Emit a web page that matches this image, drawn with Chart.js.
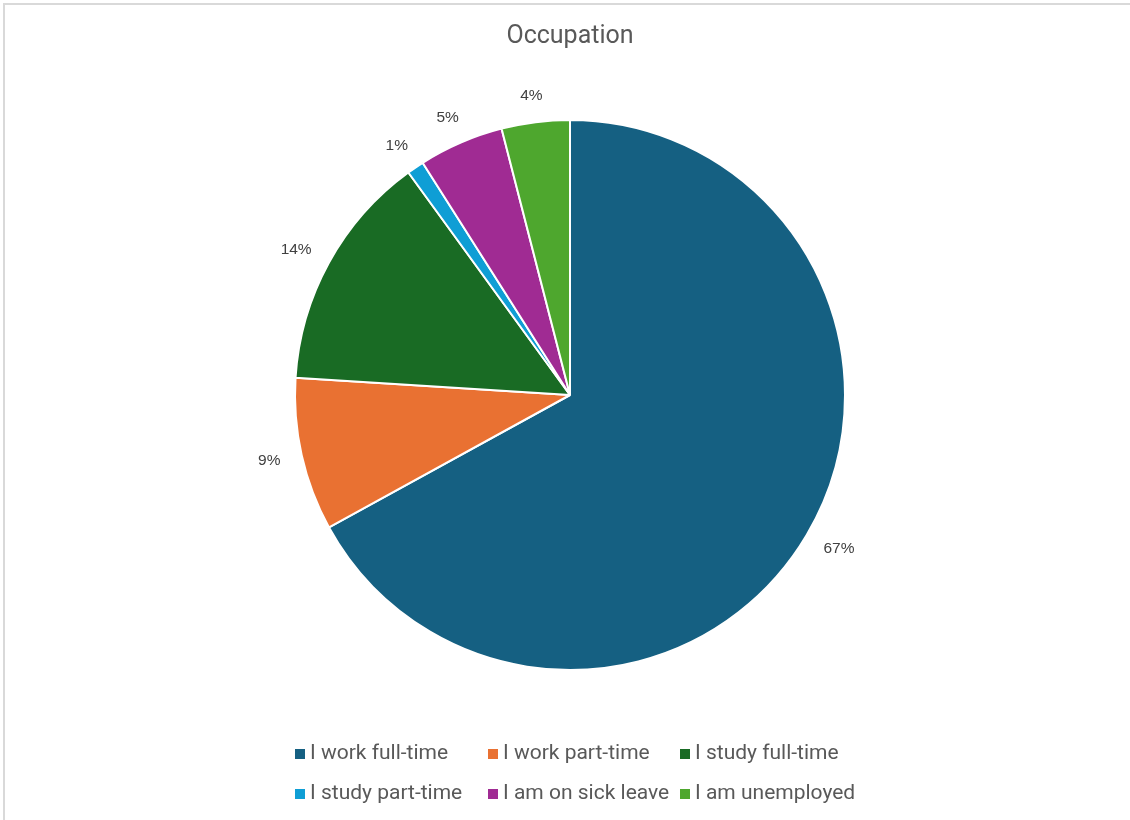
<!DOCTYPE html>
<html>
<head>
<meta charset="utf-8">
<title>Occupation</title>
<script src="https://cdn.jsdelivr.net/npm/chart.js@4/dist/chart.umd.min.js"></script>
<style>
  html, body { margin: 0; padding: 0; background: #ffffff; overflow: hidden; }
  #frame {
    position: absolute; left: 3px; top: 3px; width: 1125px; height: 815px;
    border-top: 2px solid #d9d9d9; border-left: 2px solid #d9d9d9;
  }
  #wrap { position: absolute; left: 0; top: 0; width: 1130px; height: 820px; }
</style>
</head>
<body>
<div id="frame"></div>
<div id="wrap"><canvas id="chart" width="1130" height="820"></canvas></div>
<script>
// Survey answers: share of respondents per occupation (percent)
const categories = [
  'I work full-time',
  'I work part-time',
  'I study full-time',
  'I study part-time',
  'I am on sick leave',
  'I am unemployed'
];
const shares = [67, 9, 14, 1, 5, 4];
const sliceColors = ['#156082', '#E97132', '#196B24', '#0F9ED5', '#A02B93', '#4EA72E'];
const chartTitle = 'Occupation';

const TEXT_GREY = '#595959';
const LABEL_GREY = '#404040';

// Title drawn centred above the pie
const titlePlugin = {
  id: 'titleText',
  afterDraw(chart) {
    const ctx = chart.ctx;
    ctx.save();
    ctx.fillStyle = TEXT_GREY;
    ctx.font = '25px Roboto';
    ctx.textAlign = 'center';
    ctx.textBaseline = 'middle';
    ctx.fillText(chartTitle, 570, 37);
    ctx.restore();
  }
};

// Percentage labels placed just outside each slice's outer edge
const outsideLabels = {
  id: 'outsideLabels',
  afterDatasetsDraw(chart) {
    const ctx = chart.ctx;
    const meta = chart.getDatasetMeta(0);
    ctx.save();
    ctx.font = '15.5px "Liberation Sans"';
    ctx.fillStyle = LABEL_GREY;
    ctx.textAlign = 'center';
    ctx.textBaseline = 'middle';
    meta.data.forEach((arc, i) => {
      const p = arc.getProps(['x', 'y', 'startAngle', 'endAngle', 'outerRadius'], true);
      const mid = (p.startAngle + p.endAngle) / 2;
      const dx = Math.cos(mid), dy = Math.sin(mid);
      const text = shares[i] + '%';
      const w = ctx.measureText(text).width;
      const h = 10;
      const gap = 22;
      const x = p.x + dx * (p.outerRadius + gap) + dx * w / 2;
      const y = p.y + dy * (p.outerRadius + gap) + dy * h / 2;
      ctx.fillText(text, x, y);
    });
    ctx.restore();
  }
};

// Two-row legend laid out on a fixed column grid
const gridLegend = {
  id: 'gridLegend',
  afterDraw(chart) {
    const ctx = chart.ctx;
    const colX = [295, 488, 680];
    const rowY = [754, 794];
    ctx.save();
    ctx.font = '21px Roboto';
    ctx.textBaseline = 'middle';
    ctx.textAlign = 'left';
    categories.forEach((name, i) => {
      const col = i % 3, row = Math.floor(i / 3);
      const x = colX[col], y = rowY[row];
      ctx.fillStyle = sliceColors[i];
      ctx.fillRect(x, y - 5, 10, 10);
      ctx.fillStyle = TEXT_GREY;
      ctx.fillText(name, x + 15, y);
    });
    ctx.restore();
  }
};

new Chart(document.getElementById('chart'), {
  type: 'pie',
  data: {
    labels: categories,
    datasets: [{
      data: shares,
      backgroundColor: sliceColors,
      borderColor: '#ffffff',
      borderWidth: 2
    }]
  },
  options: {
    responsive: false,
    animation: false,
    layout: { padding: { left: 294, right: 284, top: 119, bottom: 149 } },
    plugins: {
      legend: { display: false },
      title: { display: false },
      tooltip: { enabled: false }
    }
  },
  plugins: [titlePlugin, outsideLabels, gridLegend]
});
</script>
</body>
</html>
